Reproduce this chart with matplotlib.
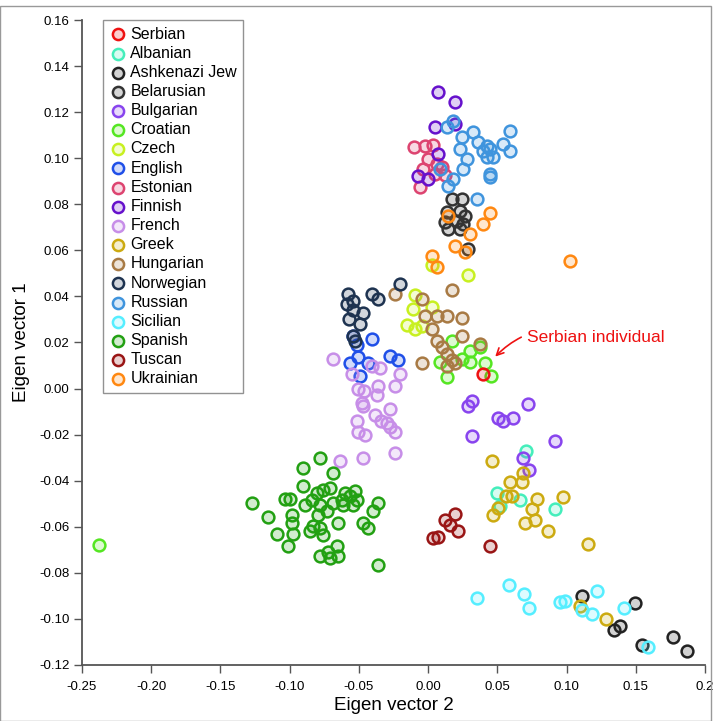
import matplotlib
matplotlib.use('Agg')
import matplotlib.pyplot as plt
from matplotlib.patches import Rectangle

plt.rcParams['font.family'] = ['Liberation Sans', 'DejaVu Sans']

# population -> (colour, eigen vector 2 values, eigen vector 1 values)
serbian_x = [0.0397]
serbian_y = [0.0065]

albanian_x = [0.0708, 0.0499, 0.0520, 0.0665, 0.0918]
albanian_y = [-0.0273, -0.0456, -0.0512, -0.0486, -0.0525]

ashkenazi_x = [0.1113, 0.1496, 0.1387, 0.1344, 0.1546, 0.1770, 0.1871]
ashkenazi_y = [-0.0903, -0.0933, -0.1033, -0.1051, -0.1116, -0.1081, -0.1142]

belarusian_x = [0.0173, 0.0246, 0.0137, 0.0231, 0.0267, 0.0123, 0.0210, 0.0253, 0.0145, 0.0231, 0.0289]
belarusian_y = [0.0825, 0.0825, 0.0768, 0.0773, 0.0751, 0.0725, 0.0729, 0.0716, 0.0695, 0.0695, 0.0608]

bulgarian_x = [0.0318, 0.0289, 0.0723, 0.0506, 0.0542, 0.0614, 0.0318, 0.0918, 0.0686, 0.0730]
bulgarian_y = [-0.0056, -0.0078, -0.0069, -0.0130, -0.0143, -0.0130, -0.0208, -0.0230, -0.0304, -0.0352]

croatian_x = [0.0173, 0.0087, 0.0137, 0.0303, 0.0303, 0.0410, 0.0450, 0.0376, 0.0246, -0.2380]
croatian_y = [0.0208, 0.0117, 0.0048, 0.0165, 0.0117, 0.0110, 0.0056, 0.0180, 0.0130, -0.0680]

czech_x = [-0.0094, -0.0108, -0.0152, -0.0094, -0.0043, 0.0029, 0.0289, 0.0029]
czech_y = [0.0408, 0.0347, 0.0278, 0.0260, 0.0270, 0.0356, 0.0495, 0.0538]

english_x = [-0.0405, -0.0513, -0.0506, -0.0564, -0.0434, -0.0491, -0.0275, -0.0217, -0.0542]
english_y = [0.0217, 0.0187, 0.0139, 0.0113, 0.0109, 0.0056, 0.0143, 0.0122, 0.0226]

estonian_x = [-0.0101, -0.0022, 0.0036, 0.0065, 0.0101, -0.0036, 0.0051, -0.0058, 0.0123, 0.0000]
estonian_y = [0.1051, 0.1055, 0.1059, 0.0977, 0.0964, 0.0955, 0.0933, 0.0877, 0.0929, 0.0998]

finnish_x = [0.0072, 0.0195, 0.0051, 0.0195, 0.0072, -0.0072, 0.0000]
finnish_y = [0.1289, 0.1246, 0.1137, 0.1150, 0.1020, 0.0925, 0.0912]

french_x = [-0.0686, -0.0549, -0.0405, -0.0347, -0.0202, -0.0238, -0.0361, -0.0506,
            -0.0462, -0.0368, -0.0477, -0.0470, -0.0275, -0.0383, -0.0513, -0.0340,
            -0.0296, -0.0275, -0.0238, -0.0506, -0.0455, -0.0238, -0.0470, -0.0636]
french_y = [0.0130, 0.0061, 0.0096, 0.0087, 0.0065, 0.0013, 0.0009, 0.0000,
            -0.0009, -0.0026, -0.0061, -0.0078, -0.0087, -0.0117, -0.0139, -0.0139,
            -0.0148, -0.0169, -0.0187, -0.0187, -0.0204, -0.0282, -0.0304, -0.0313]

greek_x = [0.0462, 0.0592, 0.0679, 0.0686, 0.0607, 0.0564, 0.0788, 0.0975, 0.0751,
           0.0773, 0.0701, 0.0506, 0.0470, 0.0867, 0.1156, 0.1098, 0.1286]
greek_y = [-0.0317, -0.0404, -0.0408, -0.0369, -0.0465, -0.0469, -0.0478, -0.0473, -0.0525,
           -0.0569, -0.0586, -0.0521, -0.0551, -0.0621, -0.0677, -0.0946, -0.1003]

hungarian_x = [-0.0238, -0.0043, 0.0173, -0.0022, 0.0065, 0.0137, 0.0246, 0.0029, 0.0246,
               0.0065, 0.0101, 0.0137, 0.0173, 0.0137, 0.0195, -0.0043, 0.0376]
hungarian_y = [0.0412, 0.0391, 0.0430, 0.0313, 0.0313, 0.0313, 0.0308, 0.0260, 0.0230,
               0.0208, 0.0182, 0.0152, 0.0122, 0.0096, 0.0109, 0.0109, 0.0195]

norwegian_x = [-0.0578, -0.0585, -0.0542, -0.0542, -0.0470, -0.0491, -0.0542, -0.0405,
               -0.0361, -0.0202, -0.0527, -0.0570]
norwegian_y = [0.0412, 0.0369, 0.0382, 0.0339, 0.0326, 0.0282, 0.0230, 0.0412,
               0.0391, 0.0456, 0.0208, 0.0300]

russian_x = [0.0137, 0.0181, 0.0246, 0.0325, 0.0231, 0.0361, 0.0426, 0.0397, 0.0448, 0.0426, 0.0470,
             0.0542, 0.0592, 0.0592, 0.0282, 0.0253, 0.0087, 0.0448, 0.0448, 0.0181, 0.0145, 0.0354]
russian_y = [0.1137, 0.1163, 0.1094, 0.1116, 0.1042, 0.1072, 0.1055, 0.1033, 0.1042, 0.1007, 0.1007,
             0.1064, 0.1120, 0.1033, 0.0998, 0.0955, 0.0955, 0.0933, 0.0920, 0.0912, 0.0881, 0.0825]

sicilian_x = [0.0354, 0.0585, 0.0694, 0.0730, 0.0954, 0.0990, 0.1113, 0.1185, 0.1221, 0.1416, 0.1590]
sicilian_y = [-0.0912, -0.0855, -0.0894, -0.0955, -0.0929, -0.0925, -0.0964, -0.0981, -0.0881, -0.0955, -0.1124]

spanish_x = [-0.1272, -0.1156, -0.1091, -0.1012, -0.1033, -0.0997, -0.0903, -0.0780, -0.0686,
             -0.0903, -0.0983, -0.0983, -0.0975, -0.0889, -0.0838, -0.0802, -0.0759, -0.0708,
             -0.0780, -0.0730, -0.0686, -0.0621, -0.0600, -0.0564, -0.0527, -0.0513, -0.0542,
             -0.0614, -0.0795, -0.0831, -0.0780, -0.0759, -0.0853, -0.0650, -0.0470, -0.0434,
             -0.0361, -0.0397, -0.0658, -0.0723, -0.0780, -0.0650, -0.0708, -0.0361]
spanish_y = [-0.0499, -0.0556, -0.0634, -0.0686, -0.0478, -0.0482, -0.0347, -0.0304, -0.0369,
             -0.0425, -0.0551, -0.0586, -0.0634, -0.0508, -0.0486, -0.0456, -0.0443, -0.0434,
             -0.0508, -0.0530, -0.0499, -0.0486, -0.0456, -0.0469, -0.0447, -0.0486, -0.0508,
             -0.0508, -0.0551, -0.0599, -0.0608, -0.0638, -0.0621, -0.0586, -0.0586, -0.0608,
             -0.0499, -0.0534, -0.0682, -0.0708, -0.0729, -0.0729, -0.0738, -0.0768]

tuscan_x = [0.0036, 0.0072, 0.0123, 0.0195, 0.0159, 0.0217, 0.0448]
tuscan_y = [-0.0651, -0.0643, -0.0573, -0.0547, -0.0595, -0.0621, -0.0682]

ukrainian_x = [0.0145, 0.0448, 0.0397, 0.0303, 0.0195, 0.0267, 0.0029, 0.0065, 0.1026]
ukrainian_y = [0.0751, 0.0764, 0.0716, 0.0673, 0.0621, 0.0595, 0.0577, 0.0530, 0.0556]

populations = ['Serbian', 'Albanian', 'Ashkenazi Jew', 'Belarusian', 'Bulgarian', 'Croatian',
               'Czech', 'English', 'Estonian', 'Finnish', 'French', 'Greek', 'Hungarian',
               'Norwegian', 'Russian', 'Sicilian', 'Spanish', 'Tuscan', 'Ukrainian']
colours = ['#ee1111', '#44eebb', '#222222', '#333333', '#8844ee', '#55e622',
           '#c8f020', '#1f4fe8', '#dd4470', '#6611cc', '#c78ee8', '#ccaa10', '#a87a44',
           '#1e3350', '#3f94dd', '#55eeff', '#22a012', '#991515', '#ff8811']
xs = [serbian_x, albanian_x, ashkenazi_x, belarusian_x, bulgarian_x, croatian_x, czech_x,
      english_x, estonian_x, finnish_x, french_x, greek_x, hungarian_x, norwegian_x,
      russian_x, sicilian_x, spanish_x, tuscan_x, ukrainian_x]
ys = [serbian_y, albanian_y, ashkenazi_y, belarusian_y, bulgarian_y, croatian_y, czech_y,
      english_y, estonian_y, finnish_y, french_y, greek_y, hungarian_y, norwegian_y,
      russian_y, sicilian_y, spanish_y, tuscan_y, ukrainian_y]

fig = plt.figure(figsize=(7.13, 7.21), dpi=100)
ax = fig.add_axes([0.115, 0.078, 0.874, 0.894])

# draw Serbian last so it sits on top
order = list(range(1, len(populations))) + [0]
handles = {}
for i in order:
    col = matplotlib.colors.to_rgba(colours[i])
    face = (col[0], col[1], col[2], 0.2)
    h = ax.scatter(xs[i], ys[i], s=72, facecolors=[face], edgecolors=[col],
                   linewidths=1.8, label=populations[i], zorder=3)
    handles[i] = h

leg = ax.legend([handles[i] for i in range(len(populations))], populations,
                loc='upper left', bbox_to_anchor=(0.034, 1.0), fontsize=11.5,
                frameon=True, fancybox=False, edgecolor='#777777',
                handletextpad=0.3, borderpad=0.4, labelspacing=0.26,
                handlelength=1.0, markerscale=0.95, borderaxespad=0.0)
leg.get_frame().set_linewidth(1.0)

ax.annotate('Serbian individual', xy=(0.047, 0.013), xytext=(0.071, 0.022),
            color='#ee1111', fontsize=12.5, va='center', ha='left',
            arrowprops=dict(arrowstyle='->', color='#ee1111', lw=1.2,
                            connectionstyle='arc3,rad=0.35'))

ax.set_xlim(-0.25, 0.2)
ax.set_ylim(-0.12, 0.16)
xt = [-0.25, -0.20, -0.15, -0.10, -0.05, 0.00, 0.05, 0.10, 0.15, 0.2]
ax.set_xticks(xt)
ax.set_xticklabels(['-0.25', '-0.20', '-0.15', '-0.10', '-0.05', '0.00', '0.05',
                    '0.10', '0.15', '0.2'])
yt = [-0.12, -0.10, -0.08, -0.06, -0.04, -0.02, 0.00, 0.02, 0.04, 0.06, 0.08,
      0.10, 0.12, 0.14, 0.16]
ax.set_yticks(yt)
ax.set_yticklabels(['%.2f' % v for v in yt])
ax.tick_params(labelsize=9.5, length=6, width=1, color='#555555', pad=3)
ax.tick_params(axis='x', pad=6)
for side in ['top', 'right']:
    ax.spines[side].set_visible(False)
for side in ['left', 'bottom']:
    ax.spines[side].set_color('#555555')
    ax.spines[side].set_linewidth(1.3)

ax.set_xlabel('Eigen vector 2', fontsize=13.5)
ax.set_ylabel('Eigen vector 1', fontsize=13.5)
ax.xaxis.set_label_coords(0.5, -0.05)
ax.yaxis.set_label_coords(-0.083, 0.5)

fig.patches.append(Rectangle((0.0, 0.0), 0.997, 0.992, transform=fig.transFigure,
                             fill=False, edgecolor='#999999', lw=1.0))

fig.savefig('out.png', dpi=100)
